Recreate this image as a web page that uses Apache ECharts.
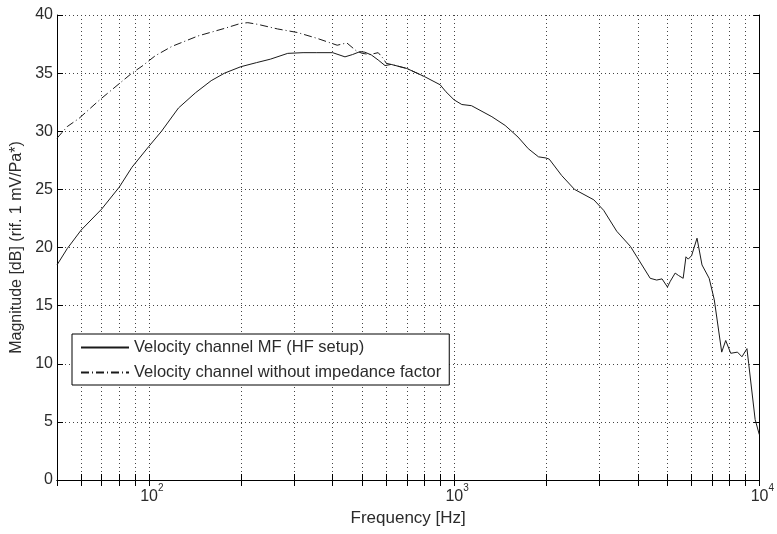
<!DOCTYPE html>
<html>
<head>
<meta charset="utf-8">
<title>Velocity channel</title>
<script src="https://cdn.jsdelivr.net/npm/echarts/dist/echarts.min.js"></script>
<style>
	html, body { margin: 0; padding: 0; background: #fff; }
	#chart { width: 777px; height: 534px; }
</style>
</head>
<body>
<div id="chart"></div>
<script>
// velocity channel MF (HF setup)
var mfFreq = [50, 54, 60, 70, 80, 88, 100, 110, 125, 142, 160, 177, 200, 225, 250, 285, 320, 355, 400, 439, 465, 492, 510, 536, 564, 594, 622, 700, 800, 900, 940, 1000, 1060, 1140, 1330, 1470, 1620, 1750, 1890, 2000, 2050, 2250, 2480, 2870, 3090, 3410, 3780, 3970, 4390, 4610, 4800, 5000, 5110, 5300, 5430, 5630, 5750, 5850, 6000, 6250, 6490, 6850, 7120, 7530, 7760, 8060, 8480, 8770, 9110, 9230, 9690, 10000];
var mfValues = [18.5, 19.9, 21.5, 23.3, 25.2, 26.9, 28.7, 30.0, 32.0, 33.3, 34.35, 35.0, 35.55, 35.9, 36.2, 36.7, 36.76, 36.76, 36.76, 36.4, 36.6, 36.85, 36.8, 36.56, 36.13, 35.65, 35.75, 35.4, 34.7, 34.0, 33.4, 32.7, 32.3, 32.2, 31.25, 30.5, 29.5, 28.5, 27.8, 27.7, 27.6, 26.2, 25.0, 24.1, 23.2, 21.4, 20.1, 19.2, 17.35, 17.2, 17.3, 16.6, 17.1, 17.8, 17.6, 17.35, 19.2, 19.0, 19.3, 20.8, 18.5, 17.35, 15.5, 11.0, 12.0, 10.9, 11.0, 10.6, 11.3, 10.0, 5.2, 3.9];

// velocity channel without impedance factor
var noImpFreq = [50, 54, 59, 69, 80, 88, 95, 105, 119, 145, 177, 200, 211, 227, 264, 306, 355, 414, 445, 479, 500, 530, 564, 585, 600, 622, 700, 800];
var noImpValues = [29.4, 30.4, 31.1, 32.7, 34.1, 35.0, 35.6, 36.5, 37.3, 38.2, 38.85, 39.28, 39.34, 39.2, 38.8, 38.5, 38.0, 37.4, 37.6, 36.9, 36.7, 36.6, 36.76, 36.28, 35.84, 35.75, 35.4, 34.7];

var seriesNames = ['Velocity channel MF (HF setup)', 'Velocity channel without impedance factor'];
var yTicks = [0, 5, 10, 15, 20, 25, 30, 35, 40];

var TEXT_COLOR = '#2b2b2b';
var LINE_COLOR = '#1a1a1a';
var GRID_DOTS = { color: '#444', width: 1, type: [1, 3] };

function pairs(xs, ys) {
	var out = [];
	for (var i = 0; i < xs.length; i++) {
		out.push([xs[i], ys[i]]);
	}
	return out;
}

function powerLabel(value) {
	var p = Math.round(Math.log10(value));
	if (Math.abs(Math.pow(10, p) - value) > value * 1e-6) return '';
	return '{b|10}{sup|' + p + '}';
}

function logAxis(extra) {
	var axis = {
		type: 'log',
		logBase: 10,
		min: 50,
		max: 10000,
		axisLine: { lineStyle: { color: '#000', width: 1 } },
		axisTick: { show: true, inside: true, length: 6, lineStyle: { color: '#000' } },
		minorTick: { show: true, splitNumber: 9, length: 6, lineStyle: { color: '#000' } }
	};
	for (var k in extra) axis[k] = extra[k];
	return axis;
}

function valueAxis(extra) {
	var axis = {
		type: 'value',
		min: yTicks[0],
		max: yTicks[yTicks.length - 1],
		interval: 5,
		axisLine: { show: true, lineStyle: { color: '#000', width: 1 } },
		axisTick: { show: true, inside: true, length: 6, lineStyle: { color: '#000' } }
	};
	for (var k in extra) axis[k] = extra[k];
	return axis;
}

function loadGraph() {
	var dom = document.getElementById('chart');
	var myChart = echarts.init(dom, null, { renderer: 'canvas' });

	var option = {
		animation: false,
		backgroundColor: '#fff',
		textStyle: { fontFamily: 'Liberation Sans, Arial, sans-serif' },
		grid: { left: 57, top: 15, right: 10, bottom: 54, containLabel: false },
		legend: {
			data: seriesNames,
			orient: 'vertical',
			left: 72,
			top: 334,
			padding: [5, 8, 4, 8],
			itemGap: 8,
			itemWidth: 48,
			itemHeight: 14,
			backgroundColor: '#fff',
			borderColor: '#000',
			borderWidth: 1,
			itemStyle: { opacity: 0 },
			textStyle: { fontSize: 16.5, color: TEXT_COLOR }
		},
		xAxis: [
			logAxis({
				position: 'bottom',
				name: 'Frequency [Hz]',
				nameLocation: 'middle',
				nameGap: 26,
				nameTextStyle: { fontSize: 17, color: TEXT_COLOR },
				axisLabel: {
					margin: 3,
					color: TEXT_COLOR,
					formatter: powerLabel,
					rich: {
						b: { fontSize: 16, color: TEXT_COLOR, verticalAlign: 'bottom', padding: [0, 0, 0, 6] },
						sup: { fontSize: 10, color: TEXT_COLOR, verticalAlign: 'top', padding: [0, 0, 12, 0] }
					}
				},
				splitLine: { show: true, lineStyle: GRID_DOTS },
				minorSplitLine: { show: true, lineStyle: GRID_DOTS }
			}),
			logAxis({
				position: 'top',
				axisLabel: { show: false },
				splitLine: { show: false }
			})
		],
		yAxis: [
			valueAxis({
				position: 'left',
				name: 'Magnitude [dB] (rif. 1 mV/Pa*)',
				nameLocation: 'middle',
				nameGap: 29,
				nameTextStyle: { fontSize: 16, color: TEXT_COLOR },
				axisLabel: { fontSize: 16, color: TEXT_COLOR, margin: 4 },
				splitLine: { show: true, lineStyle: GRID_DOTS }
			}),
			valueAxis({
				position: 'right',
				axisLabel: { show: false },
				splitLine: { show: false }
			})
		],
		series: [
			{
				name: seriesNames[0],
				type: 'line',
				data: pairs(mfFreq, mfValues),
				showSymbol: false,
				symbol: 'none',
				color: LINE_COLOR,
				lineStyle: { width: 1, color: LINE_COLOR, type: 'solid' }
			},
			{
				name: seriesNames[1],
				type: 'line',
				data: pairs(noImpFreq, noImpValues),
				showSymbol: false,
				symbol: 'none',
				color: LINE_COLOR,
				lineStyle: { width: 1, color: LINE_COLOR, type: [8, 3, 1, 3] }
			}
		]
	};

	myChart.setOption(option, true);
}

loadGraph();
</script>
</body>
</html>
